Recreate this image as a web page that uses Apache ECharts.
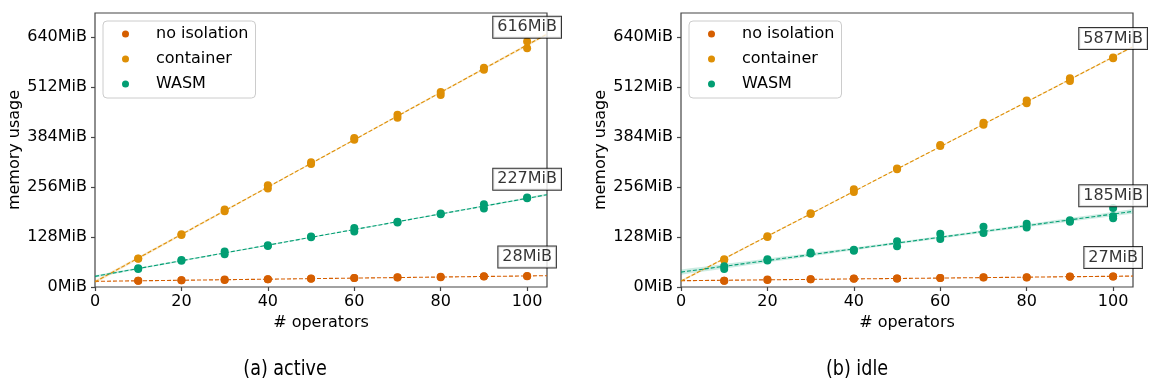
<!DOCTYPE html>
<html>
<head>
<meta charset="utf-8">
<script src="https://cdn.jsdelivr.net/npm/echarts@6/dist/echarts.min.js"></script>
<style>
  html, body { margin: 0; padding: 0; background: #fff; }
  #chart { width: 1153px; height: 385px; }
</style>
</head>
<body>
<div id="chart"></div>
<script>
// ---------- data ----------
const xs = [10, 20, 30, 40, 50, 60, 70, 80, 90, 100];
const seriesNames = ['no isolation', 'container', 'WASM'];
const xTicks = [0, 20, 40, 60, 80, 100];
const yTicks = [0, 128, 256, 384, 512, 640];
const panelTitles = ['(a) active', '(b) idle'];

// replicate measurements per x (MiB)
const noIsoActive = [[16,16],[17,17],[18,19],[20,20],[21,22],[23,23],[24,25],[25,26],[27,27.5],[27.5,28]];
const containerActive = [[72,73],[133,135],[194,198],[252,260],[315,319],[377,381],[433,441],[491,499],[556,561],[611,628]];
const wasmActive = [[46,48],[67,69],[84,91],[105,107],[127,129],[142,151],[165,167],[186,188],[201,212],[227,229]];

const noIsoIdle = [[16,16],[18,19],[20,20],[21,22],[22,22],[23,23],[24,25],[24,25],[26,27],[27,27]];
const containerIdle = [[69,71],[128,130],[187,189],[243,250],[301,303],[361,363],[415,420],[470,477],[527,534],[585,587]];
const wasmIdle = [[46,53],[68,71],[86,88],[93,95],[104,117],[123,136],[138,154],[152,162],[167,171],[176,181,202]];

const annotActive = [28, 616, 227];
const annotIdle = [27, 587, 185];

// ---------- layout / style ----------
const colors = ['#d55e00', '#de8f05', '#029e73'];
const X_MAX = 104.6, Y_MAX = 701;
const FONT = 'DejaVu Sans';
const panels = [
  { data: [noIsoActive, containerActive, wasmActive], annot: annotActive, left: 95, legendLeft: 103, titleX: 285 },
  { data: [noIsoIdle, containerIdle, wasmIdle], annot: annotIdle, left: 681, legendLeft: 689, titleX: 857 }
];

function fit(reps) {
  const pts = [];
  reps.forEach((r, i) => r.forEach(v => pts.push([xs[i], v])));
  const n = pts.length;
  const mx = pts.reduce((s, p) => s + p[0], 0) / n;
  const my = pts.reduce((s, p) => s + p[1], 0) / n;
  let sxx = 0, sxy = 0;
  pts.forEach(p => { sxx += (p[0] - mx) ** 2; sxy += (p[0] - mx) * (p[1] - my); });
  const b = sxy / sxx, a = my - b * mx;
  let sse = 0;
  pts.forEach(p => { sse += (p[1] - a - b * p[0]) ** 2; });
  const s = Math.sqrt(sse / (n - 2));
  return { pts, n, mx, sxx, a, b, s };
}

const grids = [], xAxes = [], yAxes = [], series = [], legends = [], graphics = [];

panels.forEach((p, pi) => {
  grids.push({ left: p.left, top: 13, width: 452, height: 274, show: true,
    borderColor: '#444', borderWidth: 1.2, backgroundColor: 'transparent' });
  xAxes.push({
    type: 'value', gridIndex: pi, min: 0, max: X_MAX,
    axisLine: { show: false },
    axisTick: { show: true, length: 4, customValues: xTicks, lineStyle: { color: '#444', width: 1.2 } },
    axisLabel: { customValues: xTicks, fontSize: 16, color: '#000', fontFamily: FONT, margin: 7 },
    splitLine: { show: false },
    name: '# operators', nameLocation: 'middle', nameGap: 26,
    nameTextStyle: { fontSize: 16, color: '#000', fontFamily: FONT }
  });
  yAxes.push({
    type: 'value', gridIndex: pi, min: 0, max: Y_MAX,
    axisLine: { show: false },
    axisTick: { show: true, length: 4, customValues: yTicks, lineStyle: { color: '#444', width: 1.2 } },
    axisLabel: { customValues: yTicks, fontSize: 16, color: '#000', fontFamily: FONT, margin: 8,
      formatter: v => v + 'MiB' },
    splitLine: { show: false },
    name: 'memory usage', nameLocation: 'middle', nameGap: 71,
    nameTextStyle: { fontSize: 16, color: '#000', fontFamily: FONT }
  });

  p.data.forEach((reps, k) => {
    const f = fit(reps);
    const color = colors[k];
    const T = 2.02;
    // confidence band
    series.push({
      type: 'custom', name: seriesNames[k] + ' ci', xAxisIndex: pi, yAxisIndex: pi, z: 1, silent: true,
      clip: true,
      data: [[0, f.a]],
      renderItem: (params, api) => {
        const up = [], lo = [];
        const N = 40;
        for (let i = 0; i <= N; i++) {
          const x = X_MAX * i / N;
          const y = f.a + f.b * x;
          const h = T * f.s * Math.sqrt(1 / f.n + (x - f.mx) ** 2 / f.sxx);
          up.push(api.coord([x, y + h]));
          lo.push(api.coord([x, y - h]));
        }
        return { type: 'polygon', shape: { points: up.concat(lo.reverse()) },
          style: { fill: color, opacity: 0.2 } };
      }
    });
    // regression line
    series.push({
      type: 'line', name: seriesNames[k] + ' fit', xAxisIndex: pi, yAxisIndex: pi, z: 2,
      showSymbol: false, silent: true,
      data: [[0, f.a], [X_MAX, f.a + f.b * X_MAX]],
      lineStyle: { color: color, width: 1.1, type: [4, 2] }
    });
    // points
    series.push({
      type: 'scatter', name: seriesNames[k], xAxisIndex: pi, yAxisIndex: pi, z: 3,
      symbolSize: 8, itemStyle: { color: color, opacity: 1 },
      data: f.pts
    });
    // annotation
    series.push({
      type: 'scatter', name: seriesNames[k] + ' label', xAxisIndex: pi, yAxisIndex: pi, z: 10,
      symbolSize: 1, itemStyle: { color: 'transparent' }, silent: true,
      data: [[100, p.annot[k]]],
      label: { show: true, position: 'inside', offset: [0, -19],
        formatter: q => q.value[1] + 'MiB',
        fontSize: 16, color: '#000', fontFamily: FONT,
        backgroundColor: '#fff', borderColor: '#000', borderWidth: 1, padding: [3, 4, 2, 4] }
    });
  });

  legends.push({
    orient: 'vertical', left: p.legendLeft, top: 21,
    data: seriesNames.map(n => ({ name: n, icon: 'circle' })),
    itemWidth: 29, itemHeight: 7, itemGap: 7,
    formatter: name => '{t|' + name + '}',
    textStyle: { fontSize: 16, color: '#000', fontFamily: FONT, lineHeight: 18,
      rich: { t: { fontSize: 16, color: '#000', fontFamily: FONT, lineHeight: 18, padding: [0, 0, 0, 11] } } },
    padding: [4, 7, 5, 19],
    backgroundColor: 'rgba(255,255,255,0.8)', borderColor: '#ccc', borderWidth: 1, borderRadius: 4,
    selectedMode: false
  });

  graphics.push({
    type: 'text', x: p.titleX, y: 370, scaleX: 0.93, originX: 0, originY: 0,
    style: { text: panelTitles[pi], fill: '#000', font: '21px "DejaVu Sans Condensed", "Liberation Sans Narrow", "Roboto Condensed", "DejaVu Sans", sans-serif',
      textAlign: 'center', textVerticalAlign: 'middle' }
  });
});

const chart = echarts.init(document.getElementById('chart'), null, { renderer: 'canvas' });
chart.setOption({
  animation: false,
  backgroundColor: '#fff',
  grid: grids, xAxis: xAxes, yAxis: yAxes,
  legend: legends,
  series: series,
  graphic: graphics
});
</script>
</body>
</html>
